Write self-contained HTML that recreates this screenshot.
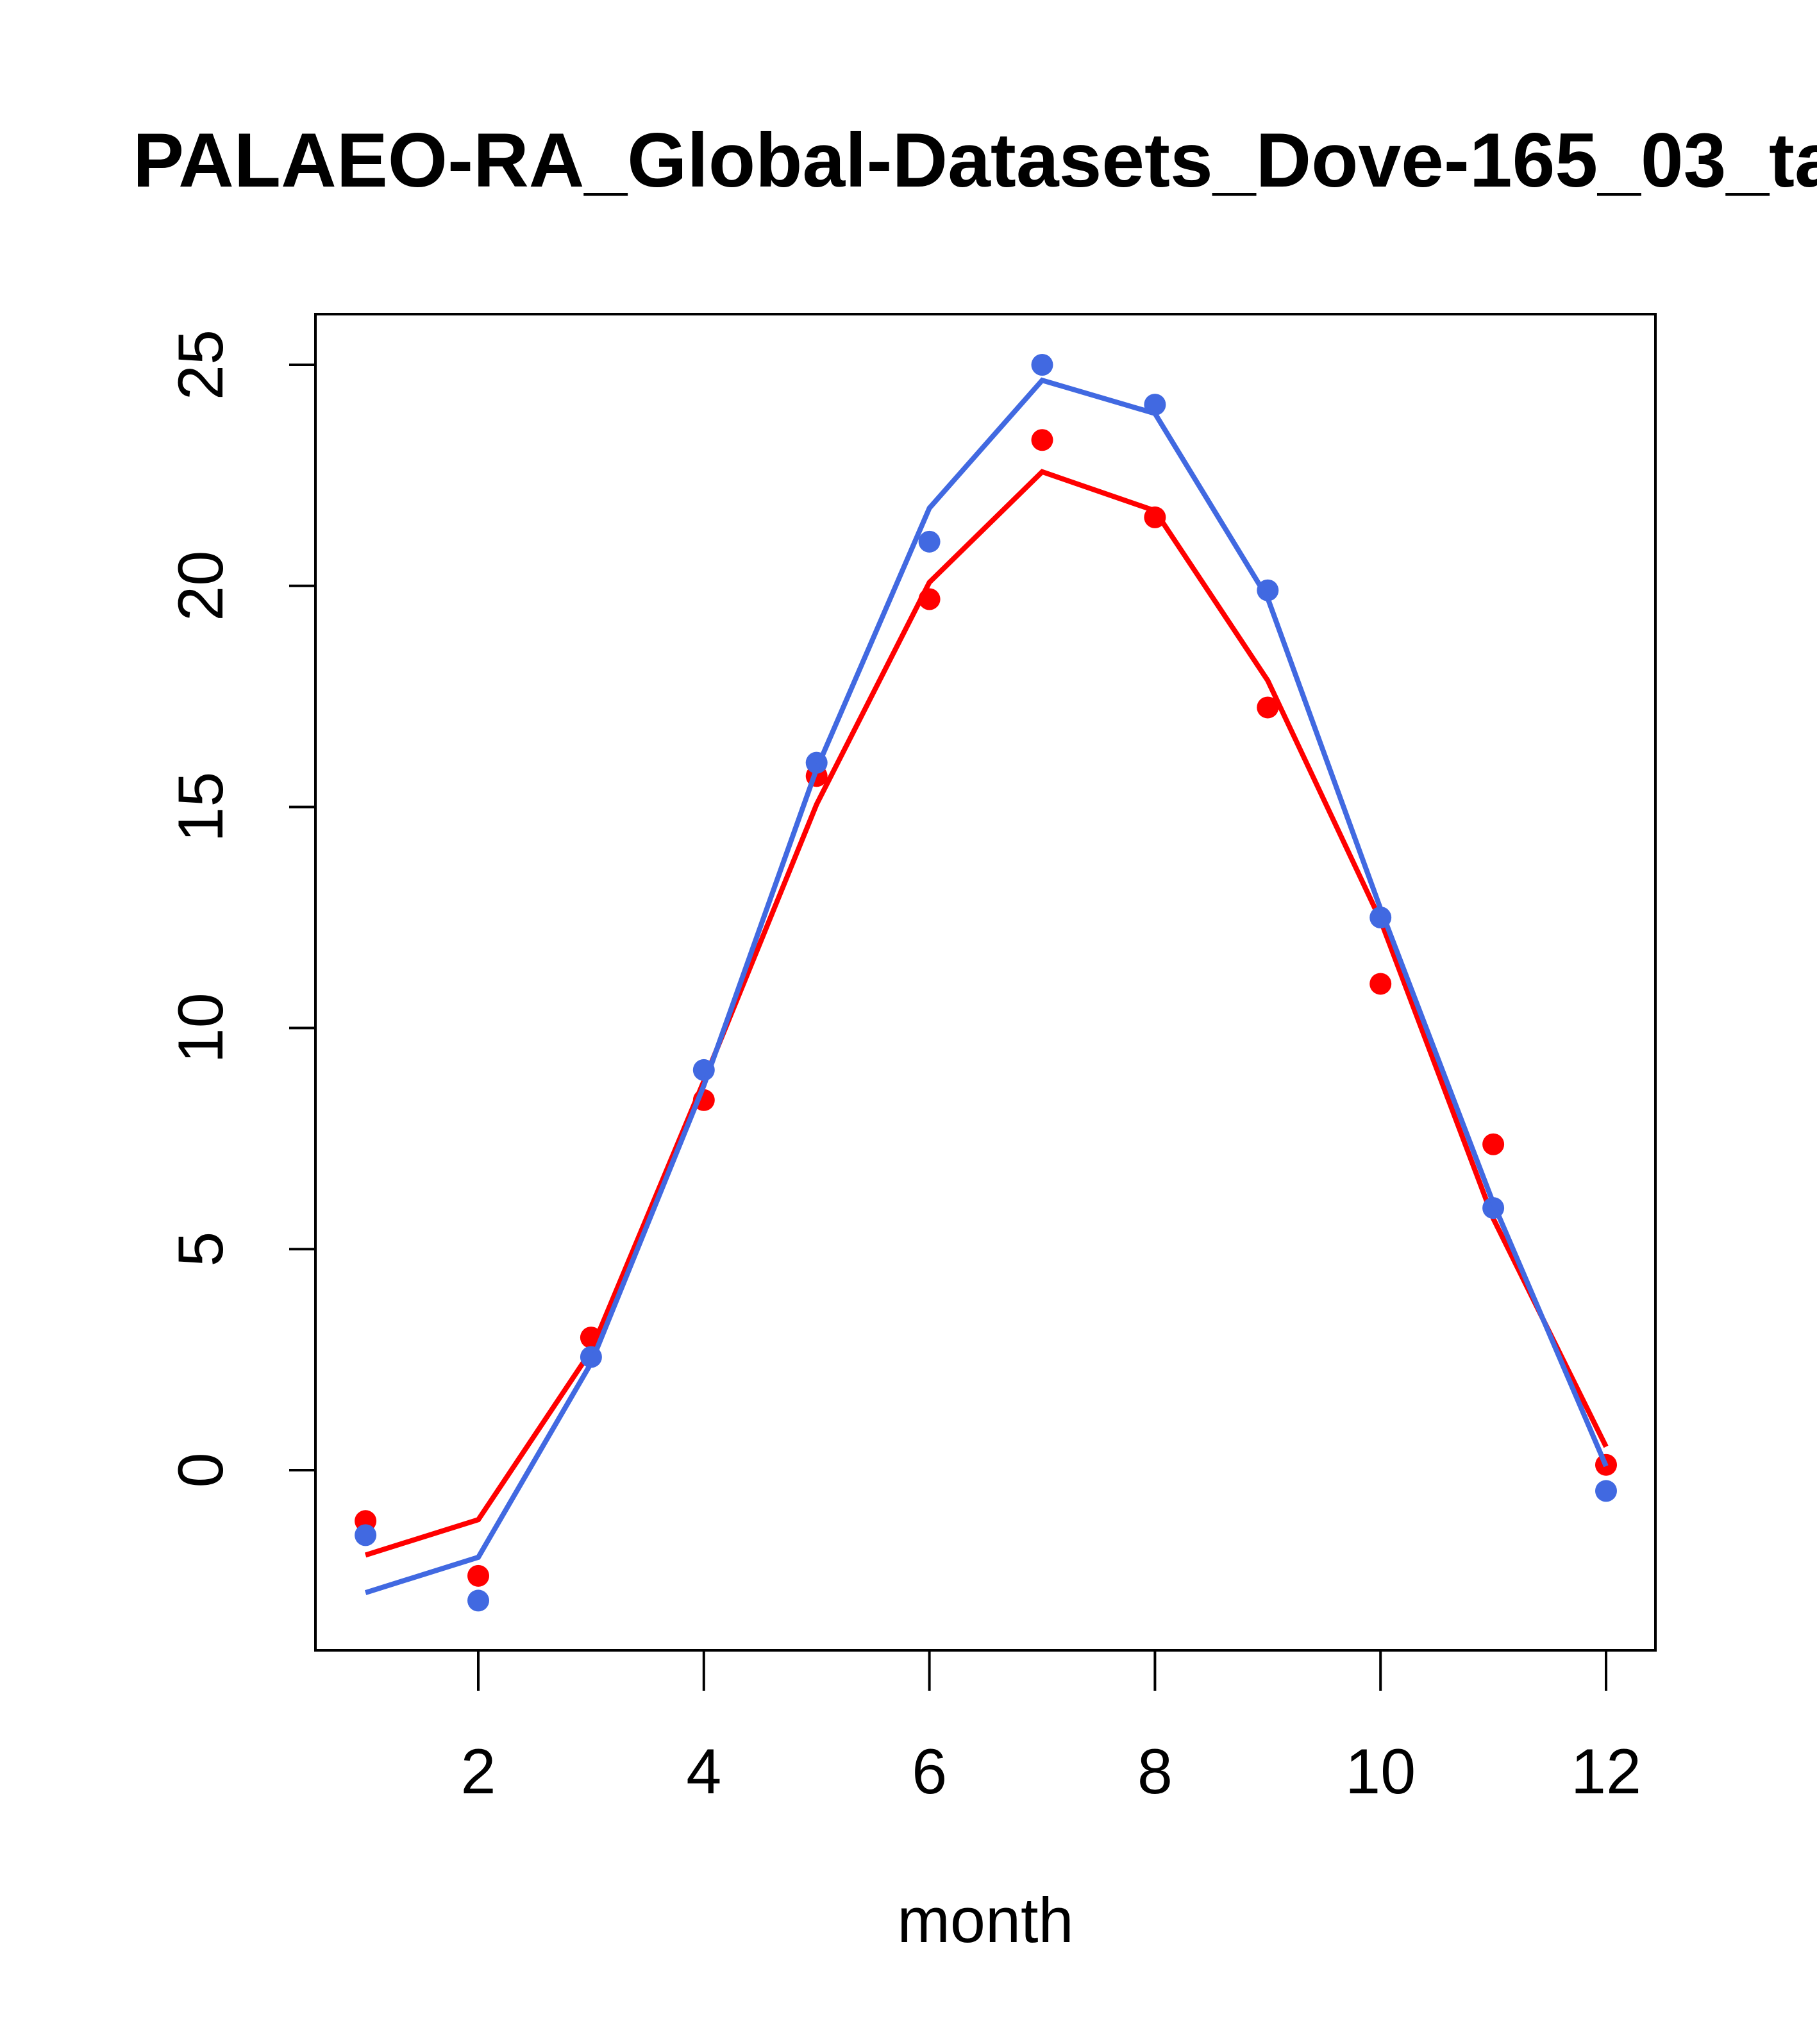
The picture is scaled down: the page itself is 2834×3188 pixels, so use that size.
<!DOCTYPE html>
<html><head><meta charset="utf-8"><style>
html,body{margin:0;padding:0;background:#fff;overflow:hidden;}
svg{display:block;font-family:"Liberation Sans",sans-serif;}
</style></head><body>
<svg id="chart" width="2834" height="3188" viewBox="0 0 2834 3188" xmlns="http://www.w3.org/2000/svg">
<rect width="2834" height="3188" fill="#fff"/>
<text x="207" y="291" font-size="120" font-weight="bold">PALAEO-RA_Global-Datasets_Dove-165_03_ta</text>
<rect x="492" y="490" width="2090" height="2084" fill="none" stroke="#000" stroke-width="4"/>
<g id="xaxis"></g>
<g id="yaxis"></g>
<text x="1537" y="3029" font-size="99" text-anchor="middle">month</text>
<g id="series"></g>
</svg>
<script>
const months = [1,2,3,4,5,6,7,8,9,10,11,12];
const redPoints = [-1.15,-2.39,3.0,8.37,15.7,19.7,23.3,21.55,17.25,11.0,7.37,0.12];
const redLine = [-1.92,-1.12,2.7,8.8,15.06,20.08,22.58,21.7,17.86,12.44,5.69,0.53];
const bluePoints = [-1.47,-2.95,2.56,9.05,16.0,21.0,25.0,24.1,19.9,12.5,5.93,-0.47];
const blueLine = [-2.77,-1.97,2.42,8.7,15.86,21.76,24.65,23.9,19.72,12.7,6.04,0.09];
const xTicks = [2,4,6,8,10,12];
const yTicks = [0,5,10,15,20,25];

const NS = "http://www.w3.org/2000/svg";
function xs(m){ return 746 + (m-2)*175.9; }
function ys(v){ return 2293 - v*68.96; }
function mk(tag, attrs, parent){
  const e = document.createElementNS(NS, tag);
  for (const k in attrs) e.setAttribute(k, attrs[k]);
  parent.appendChild(e); return e;
}
const xa = document.getElementById('xaxis');
const ya = document.getElementById('yaxis');
const sg = document.getElementById('series');
mk('line',{x1:xs(2),x2:xs(12),y1:2574,y2:2574,stroke:'#000','stroke-width':4},xa);
xTicks.forEach(t=>{
  const l = mk('line',{x1:xs(t),x2:xs(t),y1:2574,y2:2637,stroke:'#000','stroke-width':4},xa);
  
  
  const tx = mk('text',{x:xs(t),y:2797,'font-size':99,'text-anchor':'middle'},xa);
  tx.textContent = t;
  
  
});
mk('line',{x1:492,x2:492,y1:ys(0),y2:ys(25),stroke:'#000','stroke-width':4},ya);
yTicks.forEach(t=>{
  const l = mk('line',{x1:451,x2:492,y1:ys(t),y2:ys(t),stroke:'#000','stroke-width':4},ya);
  
  
  const tx = mk('text',{x:0,y:0,'font-size':99,'text-anchor':'middle',transform:`translate(347,${ys(t)}) rotate(-90)`},ya);
  tx.textContent = t;
  
  
});
function drawSeries(pts, line, color, name){
  pts.forEach((v,i)=>{
    const c = mk('circle',{cx:xs(months[i]),cy:ys(v),r:17,fill:color},sg);
    
    
  });
  const d = line.map((v,i)=>(i?'L':'M')+xs(months[i])+','+ys(v)).join(' ');
  const p = mk('path',{d:d,fill:'none',stroke:color,'stroke-width':8},sg);
  
  
}
drawSeries(redPoints, redLine, '#ff0000', 'red-series');
drawSeries(bluePoints, blueLine, '#4169e1', 'blue-series');
</script>
</body></html>
